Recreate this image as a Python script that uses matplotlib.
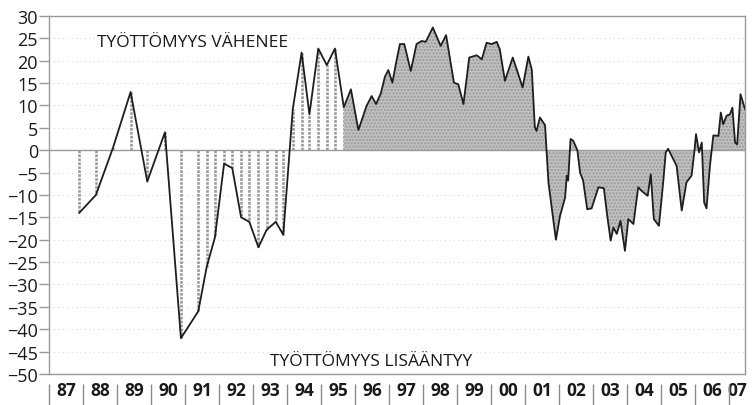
import numpy as np
import matplotlib
matplotlib.use("Agg")
import matplotlib.pyplot as plt

plt.rcParams['font.family'] = ['Open Sans', 'DejaVu Sans']

# half-yearly / quarterly observations 1987-1995 (drawn with vertical hatch lines)
early_t = [1987.89, 1988.38, 1988.88, 1989.40, 1989.89, 1990.41, 1990.88,
           1991.39, 1991.64, 1991.88, 1992.15, 1992.39, 1992.65, 1992.89,
           1993.16, 1993.40, 1993.67, 1993.89, 1994.17, 1994.43, 1994.66,
           1994.92, 1995.17, 1995.41, 1995.67]
early_v = [-14, -10, 0.5, 13, -7, 4, -42,
           -36, -26, -19.5, -3, -4, -15, -16,
           -21.7, -17.8, -16, -18.9, 9.2, 21.8, 8,
           22.7, 19, 22.7, 9.6]

# monthly-ish observations from late 1995 (drawn as filled area)
late_t = [1995.67, 1995.88, 1996.10, 1996.34, 1996.49, 1996.62, 1996.76, 1996.88,
          1996.98, 1997.10, 1997.20, 1997.32, 1997.45, 1997.64, 1997.81, 1997.96,
          1998.08, 1998.29, 1998.52, 1998.68, 1998.91, 1999.04, 1999.19, 1999.36,
          1999.58, 1999.73, 1999.87, 2000.02, 2000.17, 2000.26, 2000.41, 2000.64,
          2000.82, 2000.93, 2001.10, 2001.20, 2001.29, 2001.34, 2001.44, 2001.59,
          2001.69, 2001.83, 2001.91, 2002.03, 2002.18, 2002.23, 2002.27, 2002.34,
          2002.42, 2002.54, 2002.62, 2002.71, 2002.83, 2002.96, 2003.16, 2003.32,
          2003.42, 2003.52, 2003.60, 2003.70, 2003.81, 2003.94, 2004.04, 2004.19,
          2004.33, 2004.43, 2004.61, 2004.70, 2004.79, 2004.94, 2005.07, 2005.14,
          2005.21, 2005.46, 2005.61, 2005.75, 2005.90, 2005.98, 2006.03, 2006.12,
          2006.20, 2006.27, 2006.34, 2006.44, 2006.54, 2006.69, 2006.76, 2006.83,
          2006.93, 2007.03, 2007.10, 2007.18, 2007.24, 2007.34, 2007.47]
late_v = [9.6, 13.6, 4.5, 9.9, 12.1, 10.3, 12.7, 16.4,
          17.9, 15.1, 19.2, 23.7, 23.7, 17.7, 23.7, 24.4,
          24.2, 27.4, 23.3, 25.7, 15.1, 14.7, 10.3, 20.7,
          21.2, 20.3, 24, 23.7, 24.2, 22.5, 15.5, 20.7,
          16.6, 14, 20.9, 18, 5.1, 4.3, 7.3, 5.6,
          -7.2, -15.4, -20, -14.7, -10.6, -5.7, -6.8, 2.5,
          2.1, 0, -5, -6.8, -13.2, -13, -8.3, -8.5,
          -14.7, -20.2, -17.3, -18.7, -15.8, -22.5, -15.4, -16.5,
          -8.3, -9.1, -10.2, -5.4, -15.4, -16.9, -6.8, -0.5,
          0.3, -3.5, -13.5, -7.2, -5.7, -0.5, 3.6, -0.5,
          1.7, -11.7, -13, -3.5, 3.3, 3.2, 8.4, 5.8,
          7.7, 8, 9.5, 1.7, 1.3, 12.5, 9.2]

years = list(range(1987, 2008))
year_labels = ["%02d" % (y % 100) for y in years]

fig = plt.figure(figsize=(7.54, 4.06), dpi=100)
ax = fig.add_axes([0.065, 0.0764, 0.923, 0.882])

x_end = 2007.47
ax.set_xlim(1987, x_end)
ax.set_ylim(-50, 30)

# faint dotted grid
for y in range(-45, 30, 5):
    if y != 0:
        ax.axhline(y, color='#d8d8d8', lw=0.8, ls=(0, (1, 3)), zorder=0)
ax.axhline(0, color='#9a9a9a', lw=1.0, zorder=2)

# hatch-style vertical lines for early data
ax.vlines(early_t, 0, early_v, colors='#9a9a9a', lw=1.9, ls=(0, (1, 0.5)), zorder=1)

# filled area for later data
lt = np.array(late_t)
lv = np.array(late_v)
ax.fill_between(lt, 0, lv, facecolor='#c0c0c0', edgecolor='#989898',
                hatch='.....', lw=0, interpolate=True, zorder=1)

ax.plot(early_t + late_t[1:], early_v + late_v[1:], color='#1e1e1e', lw=1.3, zorder=3)

# frame
for s in ax.spines.values():
    s.set_color('#9a9a9a')
    s.set_linewidth(1.0)

ax.set_yticks(range(-50, 31, 5))
ax.tick_params(axis='y', length=7, width=1, color='#9a9a9a', pad=1,
               labelsize=13, labelcolor='#1a1a1a')

centers = [y + 0.5 for y in years[:-1]] + [(years[-1] + x_end) / 2]
ax.set_xticks(centers)
ax.set_xticklabels(year_labels, fontweight='bold')
ax.tick_params(axis='x', length=0, pad=5, labelsize=12.5, labelcolor='#1a1a1a')

# year separators below the axis
ax.vlines(years, -0.028, -0.087, transform=ax.get_xaxis_transform(),
          colors='#8a8a8a', lw=1.0, clip_on=False)

ax.text(1988.41, 24.1, "TYÖTTÖMYYS VÄHENEE", fontsize=12.5, va='center',
        ha='left', color='#1a1a1a')
ax.text(1993.5, -47.1, "TYÖTTÖMYYS LISÄÄNTYY", fontsize=12.5, va='center',
        ha='left', color='#1a1a1a')

fig.savefig("out.png", dpi=100)
